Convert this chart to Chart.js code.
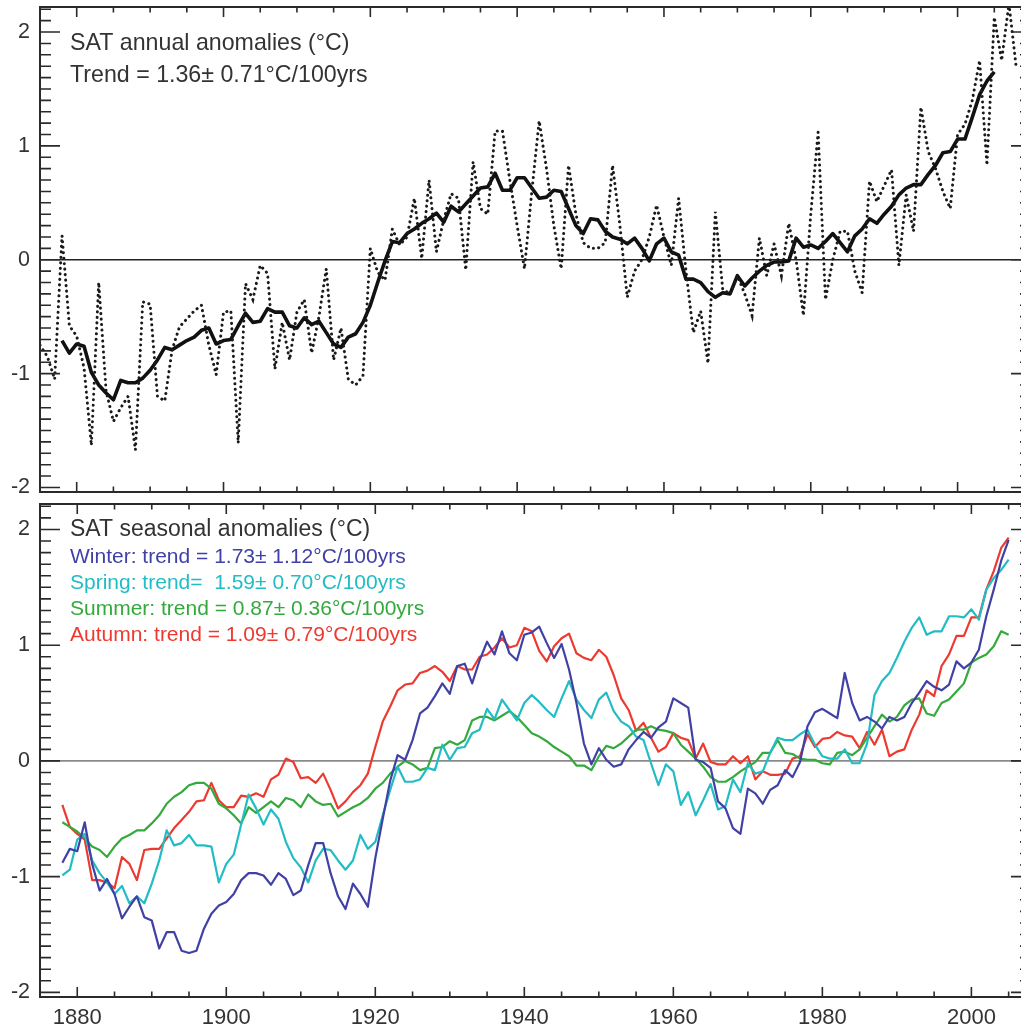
<!DOCTYPE html>
<html>
<head>
<meta charset="utf-8">
<script src="https://cdn.jsdelivr.net/npm/chart.js@4.4.1/dist/chart.umd.min.js"></script>
<style>
  html, body { margin: 0; padding: 0; background: #fff; overflow: hidden; width: 1021px; height: 1028px; }
  canvas { position: absolute; left: 0; }
  #annual { top: 0; }
  #seasonal { top: 497px; }
</style>
</head>
<body>
<canvas id="annual" width="1060" height="500"></canvas>
<canvas id="seasonal" width="1060" height="531"></canvas>
<script>
// ---- Annual surface air temperature anomalies (degC), one value per year from 1875
const annualStart = 1875;
const annualValues = [
  -0.75, -0.85, -1.05, 0.21, -0.58, -0.67, -0.95, -1.63, -0.20, -1.15,
  -1.42, -1.30, -1.20, -1.67, -0.37, -0.39, -1.20, -1.24, -0.79, -0.59,
  -0.52, -0.45, -0.40, -0.75, -1.01, -0.46, -0.45, -1.61, -0.21, -0.35,
  -0.05, -0.12, -0.96, -0.55, -0.88, -0.46, -0.35, -0.82, -0.50, -0.08,
  -0.88, -0.60, -1.05, -1.10, -1.02, 0.10, -0.11, -0.18, 0.27, 0.13,
  0.20, 0.54, 0.01, 0.70, 0.07, 0.35, 0.58, 0.54, -0.09, 0.86,
  0.45, 0.40, 1.13, 1.13, 0.70, 0.30, -0.08, 0.60, 1.22, 0.80,
  0.30, -0.08, 0.83, 0.40, 0.15, 0.10, 0.10, 0.15, 0.83, 0.30,
  -0.33, -0.10, 0.00, 0.20, 0.48, 0.20, -0.05, 0.54, -0.10, -0.64,
  -0.45, -0.91, 0.42, -0.26, -0.30, -0.14, -0.30, -0.49, 0.19, -0.14,
  0.14, -0.14, 0.32, 0.00, -0.49, 0.40, 1.12, -0.35, 0.00, 0.25,
  0.25, -0.10, -0.29, 0.69, 0.51, 0.65, 0.79, -0.05, 0.57, 0.25,
  1.34, 0.95, 0.80, 0.60, 0.45, 1.10, 1.19, 1.40, 1.75, 0.83,
  2.13, 1.75, 2.25, 1.68
];

// ---- Smoothed annual anomalies, from 1878
const smoothStart = 1878;
const annualSmoothed = [
  -0.71, -0.82, -0.74, -0.76, -0.99, -1.10, -1.17, -1.23, -1.06, -1.08,
  -1.08, -1.04, -0.97, -0.88, -0.77, -0.79, -0.75, -0.71, -0.68, -0.62,
  -0.60, -0.74, -0.71, -0.70, -0.58, -0.47, -0.55, -0.54, -0.43, -0.46,
  -0.46, -0.58, -0.60, -0.51, -0.57, -0.54, -0.64, -0.74, -0.77, -0.68,
  -0.65, -0.55, -0.40, -0.20, -0.01, 0.16, 0.15, 0.23, 0.27, 0.32,
  0.36, 0.41, 0.33, 0.47, 0.42, 0.49, 0.56, 0.63, 0.64, 0.76,
  0.61, 0.61, 0.72, 0.72, 0.63, 0.54, 0.55, 0.61, 0.60, 0.45,
  0.30, 0.23, 0.36, 0.35, 0.25, 0.20, 0.18, 0.14, 0.19, 0.10,
  -0.01, 0.14, 0.19, 0.07, 0.04, -0.17, -0.17, -0.20, -0.28, -0.33,
  -0.29, -0.30, -0.14, -0.23, -0.16, -0.10, -0.05, -0.02, -0.02, -0.01,
  0.19, 0.11, 0.13, 0.10, 0.16, 0.23, 0.15, 0.07, 0.21, 0.27,
  0.36, 0.32, 0.40, 0.47, 0.57, 0.63, 0.66, 0.66, 0.75, 0.83,
  0.94, 0.95, 1.06, 1.06, 1.25, 1.45, 1.57, 1.65
];

// ---- Seasonal anomalies (degC), from 1878
const seasonStart = 1878;
const winter = [
  -0.88, -0.76, -0.78, -0.53, -0.89, -1.12, -1.02, -1.15, -1.36, -1.26,
  -1.17, -1.35, -1.38, -1.62, -1.48, -1.48, -1.64, -1.66, -1.64, -1.45,
  -1.32, -1.25, -1.22, -1.15, -1.03, -0.97, -0.97, -0.99, -1.07, -0.97,
  -1.02, -1.16, -1.12, -0.90, -0.71, -0.71, -0.97, -1.17, -1.28, -1.06,
  -1.15, -1.26, -0.84, -0.50, -0.17, 0.05, 0.01, 0.18, 0.41, 0.46,
  0.56, 0.67, 0.58, 0.82, 0.84, 0.67, 0.87, 1.03, 0.92, 1.12,
  0.93, 0.87, 1.09, 1.11, 1.16, 1.02, 0.89, 1.01, 0.79, 0.50,
  0.15, -0.03, 0.11, 0.01, -0.05, -0.03, 0.10, 0.18, 0.25, 0.20,
  0.29, 0.34, 0.54, 0.50, 0.46, 0.01, -0.01, -0.06, -0.35, -0.41,
  -0.58, -0.63, -0.24, -0.28, -0.37, -0.25, -0.21, -0.08, -0.14, -0.01,
  0.30, 0.42, 0.45, 0.41, 0.37, 0.76, 0.50, 0.35, 0.38, 0.34,
  0.28, 0.38, 0.35, 0.38, 0.50, 0.59, 0.69, 0.64, 0.61, 0.66,
  0.86, 0.80, 0.85, 0.96, 1.25, 1.48, 1.73, 1.91
];
const spring = [
  -0.99, -0.94, -0.68, -0.63, -0.86, -0.97, -1.05, -1.15, -1.08, -1.23,
  -1.17, -1.23, -1.06, -0.86, -0.60, -0.73, -0.71, -0.64, -0.73, -0.73,
  -0.74, -1.05, -0.89, -0.81, -0.55, -0.29, -0.41, -0.55, -0.42, -0.50,
  -0.70, -0.84, -0.92, -1.05, -0.86, -0.76, -0.77, -0.86, -0.94, -0.86,
  -0.64, -0.76, -0.70, -0.47, -0.25, -0.05, -0.18, -0.18, -0.16, -0.06,
  -0.08, 0.14, 0.01, 0.11, 0.12, 0.24, 0.27, 0.45, 0.36, 0.53,
  0.44, 0.35, 0.50, 0.57, 0.51, 0.44, 0.38, 0.54, 0.69, 0.53,
  0.44, 0.37, 0.53, 0.59, 0.43, 0.34, 0.30, 0.21, 0.18, -0.02,
  -0.21, -0.03, -0.09, -0.38, -0.27, -0.47, -0.34, -0.20, -0.42, -0.39,
  -0.16, -0.27, -0.02, -0.11, -0.09, 0.07, 0.20, 0.18, 0.18, 0.23,
  0.27, 0.14, 0.04, 0.02, 0.02, 0.10, -0.02, -0.02, 0.15, 0.57,
  0.69, 0.76, 0.89, 1.03, 1.15, 1.24, 1.09, 1.12, 1.12, 1.25,
  1.25, 1.24, 1.31, 1.22, 1.48, 1.58, 1.65, 1.74
];
const summer = [
  -0.53, -0.57, -0.61, -0.67, -0.74, -0.77, -0.83, -0.74, -0.67, -0.64,
  -0.60, -0.60, -0.54, -0.47, -0.37, -0.31, -0.27, -0.21, -0.19, -0.19,
  -0.24, -0.37, -0.41, -0.47, -0.54, -0.40, -0.45, -0.40, -0.35, -0.40,
  -0.32, -0.34, -0.40, -0.29, -0.35, -0.38, -0.37, -0.48, -0.44, -0.40,
  -0.37, -0.32, -0.24, -0.19, -0.11, -0.05, 0.00, -0.03, -0.08, -0.06,
  0.11, 0.12, 0.17, 0.14, 0.18, 0.35, 0.38, 0.38, 0.35, 0.39,
  0.43, 0.38, 0.31, 0.24, 0.21, 0.17, 0.12, 0.08, 0.04, -0.04,
  -0.04, -0.08, 0.04, 0.13, 0.11, 0.15, 0.21, 0.27, 0.27, 0.30,
  0.27, 0.26, 0.24, 0.14, 0.08, 0.02, -0.05, -0.14, -0.18, -0.18,
  -0.14, -0.09, -0.05, -0.01, 0.07, 0.07, 0.18, 0.07, 0.06, 0.02,
  0.01, 0.01, -0.02, -0.03, 0.07, 0.08, 0.05, 0.10, 0.20, 0.30,
  0.40, 0.34, 0.38, 0.48, 0.53, 0.54, 0.41, 0.39, 0.50, 0.53,
  0.60, 0.67, 0.85, 0.89, 0.92, 0.99, 1.12, 1.09
];
const autumn = [
  -0.38, -0.57, -0.63, -0.68, -1.03, -1.03, -1.05, -1.10, -0.83, -0.89,
  -1.03, -0.77, -0.76, -0.76, -0.67, -0.58, -0.51, -0.44, -0.35, -0.34,
  -0.19, -0.34, -0.40, -0.40, -0.30, -0.31, -0.28, -0.31, -0.16, -0.12,
  0.02, -0.01, -0.15, -0.14, -0.19, -0.11, -0.25, -0.41, -0.35, -0.27,
  -0.21, -0.11, 0.12, 0.34, 0.47, 0.61, 0.66, 0.67, 0.76, 0.78,
  0.82, 0.77, 0.69, 0.82, 0.79, 0.79, 0.90, 0.92, 0.98, 1.06,
  0.98, 1.00, 1.15, 1.12, 0.95, 0.86, 0.99, 1.06, 1.10, 0.93,
  0.89, 0.87, 0.96, 0.90, 0.74, 0.54, 0.44, 0.26, 0.33, 0.20,
  0.08, 0.12, 0.24, 0.20, 0.18, 0.02, 0.15, -0.01, -0.03, -0.03,
  0.04, -0.02, 0.04, -0.16, -0.09, -0.12, -0.12, -0.11, 0.02, 0.04,
  0.23, 0.12, 0.19, 0.20, 0.25, 0.22, 0.21, 0.11, 0.25, 0.14,
  0.27, 0.04, 0.08, 0.10, 0.27, 0.40, 0.61, 0.56, 0.82, 0.92,
  1.08, 1.08, 1.24, 1.24, 1.48, 1.64, 1.84, 1.93
];

// ---- Axis tick labels
const yTickValues = [-2, -1, 0, 1, 2];
const xTickYears = [1880, 1900, 1920, 1940, 1960, 1980, 2000];

// ---- Panel annotations
const annualTitle = 'SAT annual anomalies (\u00B0C)';
const annualTrend = 'Trend = 1.36\u00B1 0.71\u00B0C/100yrs';
const seasonalTitle = 'SAT seasonal anomalies (\u00B0C)';
const seasonLabels = [
  'Winter: trend = 1.73\u00B1 1.12\u00B0C/100yrs',
  'Spring: trend=  1.59\u00B1 0.70\u00B0C/100yrs',
  'Summer: trend = 0.87\u00B1 0.36\u00B0C/100yrs',
  'Autumn: trend = 1.09\u00B1 0.79\u00B0C/100yrs'
];

const COLORS = { winter: '#4141a5', spring: '#22bcc4', summer: '#34a93c', autumn: '#ec3a30', text: '#333333' };
const FONT = "'Liberation Sans', Arial, Helvetica, sans-serif";

function series(start, values) {
  return values.map((v, i) => ({ x: start + i, y: v }));
}

// Zero line, box frame and inward-pointing minor/major ticks on all four sides
const framePlugin = {
  id: 'frame',
  beforeDatasetsDraw(chart, args, opts) {
    const { ctx, chartArea: a, scales: { x, y } } = chart;
    const y0 = y.getPixelForValue(0);
    ctx.save();
    ctx.strokeStyle = opts.zeroColor;
    ctx.lineWidth = opts.zeroWidth;
    ctx.beginPath();
    ctx.moveTo(a.left, y0);
    ctx.lineTo(a.right, y0);
    ctx.stroke();
    ctx.restore();
  },
  afterDatasetsDraw(chart, args, opts) {
    const { ctx, chartArea: a, scales: { x, y } } = chart;
    ctx.save();
    ctx.strokeStyle = '#2a2a2a';
    ctx.lineWidth = 1.6;
    ctx.beginPath();
    for (let yr = Math.ceil(x.min / 5) * 5; yr < x.max; yr += 5) {
      if (yr <= x.min) continue;
      const px = x.getPixelForValue(yr);
      const len = yr % 20 === 0 ? 10 : 5.5;
      ctx.moveTo(px, a.bottom); ctx.lineTo(px, a.bottom - len);
      ctx.moveTo(px, a.top); ctx.lineTo(px, a.top + len);
    }
    for (let k = Math.ceil(y.min * 10); k <= Math.floor(y.max * 10); k++) {
      const py = y.getPixelForValue(k / 10);
      const len = k % 10 === 0 ? 20 : 11;
      ctx.moveTo(a.left, py); ctx.lineTo(a.left + len, py);
      ctx.moveTo(a.right, py); ctx.lineTo(a.right - len, py);
    }
    ctx.stroke();
    ctx.lineWidth = 2;
    ctx.strokeRect(a.left, a.top, a.right - a.left, a.bottom - a.top);
    ctx.restore();
  }
};

// Title and trend lines written inside the panel
const notesPlugin = {
  id: 'notes',
  afterDraw(chart, args, opts) {
    const { ctx, chartArea: a } = chart;
    ctx.save();
    ctx.textAlign = 'left';
    ctx.textBaseline = 'alphabetic';
    opts.lines.forEach((ln) => {
      ctx.font = ln.size + 'px ' + FONT;
      ctx.fillStyle = ln.color;
      ctx.fillText(ln.text, a.left + opts.dx, a.top + ln.dy);
    });
    ctx.restore();
  }
};

function yScale() {
  return {
    type: 'linear',
    min: -2.04,
    max: 2.22,
    afterBuildTicks: s => { s.ticks = yTickValues.map(v => ({ value: v })); },
    afterFit: s => { s.width = 40; s.paddingTop = 0; s.paddingBottom = 0; },
    grid: { display: false, drawTicks: false },
    border: { display: false },
    ticks: { padding: 10, color: COLORS.text, font: { family: FONT, size: 21.5 }, callback: v => String(v) }
  };
}

Chart.defaults.font.family = FONT;

new Chart(document.getElementById('annual'), {
  type: 'line',
  data: {
    datasets: [
      {
        label: 'Annual',
        data: series(annualStart, annualValues),
        borderColor: '#1a1a1a',
        borderWidth: 3,
        borderDash: [0.1, 5.4],
        borderCapStyle: 'round',
        pointRadius: 0,
        tension: 0
      },
      {
        label: 'Smoothed',
        data: series(smoothStart, annualSmoothed),
        borderColor: '#111111',
        borderWidth: 3.6,
        borderJoinStyle: 'round',
        pointRadius: 0,
        tension: 0
      }
    ]
  },
  options: {
    responsive: false,
    animation: false,
    events: [],
    layout: { padding: { left: 0, top: 7, right: 29, bottom: 8 } },
    plugins: {
      legend: { display: false },
      tooltip: { enabled: false },
      frame: { zeroColor: '#222', zeroWidth: 1.6 },
      notes: {
        dx: 30,
        lines: [
          { text: annualTitle, color: COLORS.text, size: 23.2, dy: 43 },
          { text: annualTrend, color: COLORS.text, size: 23.2, dy: 75 }
        ]
      }
    },
    scales: {
      x: { type: 'linear', min: 1875, max: 2010, display: false },
      y: yScale()
    }
  },
  plugins: [framePlugin, notesPlugin]
});

function seasonSet(label, values, color) {
  return {
    label,
    data: series(seasonStart, values),
    borderColor: color,
    borderWidth: 2.2,
    borderJoinStyle: 'round',
    pointRadius: 0,
    tension: 0
  };
}

new Chart(document.getElementById('seasonal'), {
  type: 'line',
  data: {
    datasets: [
      seasonSet('Winter', winter, COLORS.winter),
      seasonSet('Spring', spring, COLORS.spring),
      seasonSet('Summer', summer, COLORS.summer),
      seasonSet('Autumn', autumn, COLORS.autumn)
    ]
  },
  options: {
    responsive: false,
    animation: false,
    events: [],
    layout: { padding: { left: 0, top: 7, right: 29, bottom: 0 } },
    plugins: {
      legend: { display: false },
      tooltip: { enabled: false },
      frame: { zeroColor: '#8a8a8a', zeroWidth: 1.6 },
      notes: {
        dx: 30,
        lines: [
          { text: seasonalTitle, color: COLORS.text, size: 23, dy: 32 },
          { text: seasonLabels[0], color: COLORS.winter, size: 21, dy: 59 },
          { text: seasonLabels[1], color: COLORS.spring, size: 21, dy: 85 },
          { text: seasonLabels[2], color: COLORS.summer, size: 21, dy: 111 },
          { text: seasonLabels[3], color: COLORS.autumn, size: 21, dy: 137 }
        ]
      }
    },
    scales: {
      x: {
        type: 'linear',
        min: 1875,
        max: 2008,
        afterBuildTicks: s => { s.ticks = xTickYears.map(v => ({ value: v })); },
        afterFit: s => { s.height = 31; s.paddingLeft = 0; s.paddingRight = 0; },
        grid: { display: false, drawTicks: false },
        border: { display: false },
        ticks: { padding: 8, maxRotation: 0, autoSkip: false, color: COLORS.text, font: { family: FONT, size: 22 }, callback: v => String(v) }
      },
      y: yScale()
    }
  },
  plugins: [framePlugin, notesPlugin]
});
</script>
</body>
</html>
